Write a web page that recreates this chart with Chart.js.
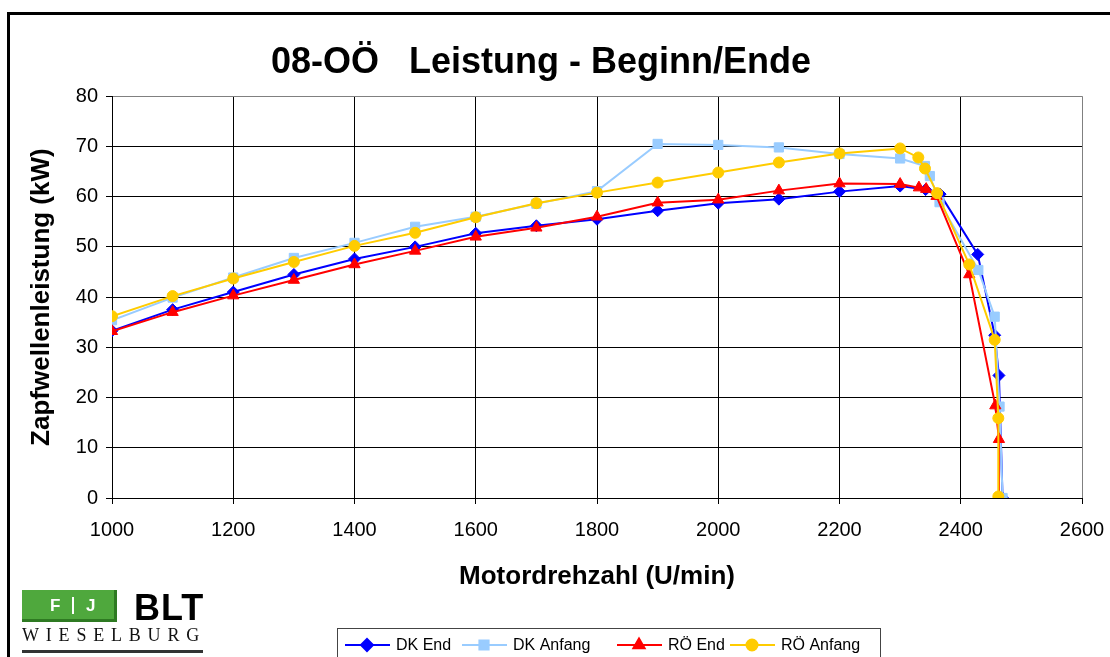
<!DOCTYPE html>
<html lang="de">
<head>
<meta charset="UTF-8">
<title>08-OÖ Leistung - Beginn/Ende</title>
<script src="https://cdn.jsdelivr.net/npm/chart.js"></script>
<style>
  html, body { margin: 0; padding: 0; background: #fff; overflow: hidden; }
  #wrap { position: relative; width: 1110px; height: 657px; }
  #frame { position: absolute; left: 7px; top: 12px; width: 1200px; height: 700px;
           border-left: 3px solid #000; border-top: 3px solid #000; }
  #chart { position: absolute; left: 0; top: 0; }
  .logo { position: absolute; left: 22px; top: 590px; width: 182px; font-family: "Liberation Sans", Arial, sans-serif; }
  .fj { position: absolute; left: 0; top: 0; width: 95px; height: 32px; background: #4fa83d;
        border-right: 3px solid #2e7a22; border-bottom: 3px solid #2e7a22; box-sizing: border-box; }
  .fj span { position: absolute; top: 6px; color: #fff; font-weight: bold; font-size: 17px; }
  .fj .sep { position: absolute; left: 50px; top: 7px; width: 2px; height: 17px; background: #fff; }
  .blt { position: absolute; left: 112px; top: 1px; font-weight: bold; font-size: 36px; line-height: 34px;
         letter-spacing: 1px; color: #000; }
  .wb { position: absolute; left: 0; top: 35px; font-family: "Liberation Serif", "DejaVu Serif", serif; font-size: 18px;
        letter-spacing: 6.8px; color: #111; white-space: nowrap; }
  .ul { position: absolute; left: 0; top: 60px; width: 181px; height: 3px; background: #333; }
</style>
</head>
<body>
<div id="wrap">
  <div id="frame"></div>
  <canvas id="chart" width="1110" height="657"></canvas>
  <div class="logo">
    <div class="fj"><span style="left:28px">F</span><div class="sep"></div><span style="left:64px">J</span></div>
    <div class="blt">BLT</div>
    <div class="wb">WIESELBURG</div>
    <div class="ul"></div>
  </div>
</div>
<script>
// Motordrehzahl (U/min) und Zapfwellenleistung (kW) je Messreihe
const dkEndRpm = [1000, 1100, 1200, 1300, 1400, 1500, 1600, 1700, 1800, 1900, 2000, 2100, 2200, 2300, 2342, 2366, 2428, 2456, 2463, 2469];
const dkEndKw  = [33.3, 37.5, 41.0, 44.5, 47.6, 50.0, 52.7, 54.2, 55.5, 57.2, 58.7, 59.5, 61.0, 62.1, 61.4, 60.5, 48.5, 32.4, 24.4, 0];

const dkAnfRpm = [1000, 1100, 1200, 1300, 1400, 1500, 1600, 1700, 1800, 1900, 2000, 2100, 2200, 2300, 2341, 2349, 2365, 2429, 2456, 2464, 2469];
const dkAnfKw  = [35.4, 39.9, 43.9, 47.8, 50.8, 54.0, 56.0, 58.6, 61.1, 70.5, 70.3, 69.8, 68.5, 67.6, 66.1, 64.1, 58.9, 45.4, 36.1, 18.2, 0];

const roEndRpm = [1000, 1100, 1200, 1300, 1400, 1500, 1600, 1700, 1800, 1900, 2000, 2100, 2200, 2300, 2331, 2343, 2360, 2414, 2457, 2463, 2463];
const roEndKw  = [33.2, 37.0, 40.3, 43.4, 46.5, 49.2, 52.0, 53.8, 56.0, 58.8, 59.4, 61.2, 62.6, 62.5, 61.8, 61.5, 60.1, 44.5, 18.4, 11.7, 0];

const roAnfRpm = [1000, 1100, 1200, 1300, 1400, 1500, 1600, 1700, 1800, 1900, 2000, 2100, 2200, 2300, 2330, 2341, 2361, 2414, 2456, 2462, 2462];
const roAnfKw  = [36.2, 40.2, 43.7, 47.0, 50.2, 52.8, 55.9, 58.7, 60.8, 62.8, 64.8, 66.8, 68.6, 69.6, 67.8, 65.6, 60.7, 46.5, 31.5, 15.9, 0.3];

const seriesNames = ['DK End', 'DK Anfang', 'RÖ End', 'RÖ Anfang'];
const xTicks = [1000, 1200, 1400, 1600, 1800, 2000, 2200, 2400, 2600];
const yTicks = [0, 10, 20, 30, 40, 50, 60, 70, 80];

const FONT = '"Liberation Sans", Arial, sans-serif';

function pts(xs, ys) { return xs.map((x, i) => ({ x: x, y: ys[i] })); }

function makeSet(name, xs, ys, color, style, radius, order) {
  return {
    label: name, data: pts(xs, ys),
    borderColor: color, backgroundColor: color, borderWidth: 2,
    pointStyle: style, pointRadius: radius, pointHoverRadius: radius,
    pointBorderWidth: 1, pointBorderColor: color, pointBackgroundColor: color,
    tension: 0, order: order
  };
}

// legend drawn like the Excel one: line with marker, in a box
const boxLegend = {
  id: 'boxLegend',
  afterDraw(chart) {
    const ctx = chart.ctx;
    ctx.save();
    ctx.strokeStyle = '#444';
    ctx.lineWidth = 1;
    ctx.strokeRect(337.5, 628.5, 543, 40);
    ctx.font = '16px ' + FONT;
    ctx.textBaseline = 'middle';
    const starts = [345, 462, 617, 730];
    chart.data.datasets.forEach((ds, i) => {
      const x0 = starts[i], y = 645;
      ctx.strokeStyle = ds.borderColor;
      ctx.lineWidth = 2;
      ctx.beginPath(); ctx.moveTo(x0, y); ctx.lineTo(x0 + 45, y); ctx.stroke();
      ctx.fillStyle = ds.pointBackgroundColor;
      Chart.helpers.drawPoint(ctx, { pointStyle: ds.pointStyle, radius: ds.pointRadius, borderWidth: 1 }, x0 + 22, y);
      ctx.fillStyle = '#000';
      ctx.fillText(ds.label, x0 + 51, y + 1);
    });
    ctx.restore();
  }
};

const lastGray = (ctx) => (ctx.tick && (ctx.tick.value === 80 || ctx.tick.value === 2600)) ? '#808080' : '#000';

new Chart(document.getElementById('chart'), {
  type: 'line',
  data: {
    datasets: [
      makeSet(seriesNames[0], dkEndRpm, dkEndKw, '#0000ff', 'rectRot', 6, 3),
      makeSet(seriesNames[1], dkAnfRpm, dkAnfKw, '#99ccff', 'rect', 6.5, 2),
      makeSet(seriesNames[2], roEndRpm, roEndKw, '#ff0000', 'triangle', 6.5, 1),
      makeSet(seriesNames[3], roAnfRpm, roAnfKw, '#ffcc00', 'circle', 5.5, 0)
    ]
  },
  options: {
    responsive: false,
    animation: false,
    layout: { padding: { left: 0, right: 28, top: 0, bottom: 63 } },
    plugins: {
      legend: { display: false },
      tooltip: { enabled: false },
      title: {
        display: true,
        text: '08-OÖ   Leistung - Beginn/Ende',
        color: '#000',
        font: { family: FONT, size: 36, weight: 'bold' },
        padding: { top: 41, bottom: 12 }
      }
    },
    scales: {
      x: {
        type: 'linear', min: 1000, max: 2600,
        afterBuildTicks: (s) => { s.ticks = xTicks.map(v => ({ value: v })); },
        afterFit: (s) => { s.height = 96; s.paddingLeft = 0; s.paddingRight = 0; },
        ticks: { color: '#000', font: { family: FONT, size: 20 }, padding: 14, maxRotation: 0,
                 callback: (v) => String(v) },
        grid: { color: lastGray, lineWidth: 1, tickLength: 6, tickColor: '#000' },
        border: { color: '#000', width: 1 },
        title: { display: true, text: 'Motordrehzahl (U/min)', color: '#000',
                 font: { family: FONT, size: 26, weight: 'bold' }, padding: { top: 0, bottom: 2 } }
      },
      y: {
        type: 'linear', min: 0, max: 80,
        afterBuildTicks: (s) => { s.ticks = yTicks.map(v => ({ value: v })); },
        afterFit: (s) => { s.width = 112; s.paddingTop = 0; s.paddingBottom = 0; },
        ticks: { color: '#000', font: { family: FONT, size: 20 }, padding: 8,
                 callback: (v) => String(v) },
        grid: { color: lastGray, lineWidth: 1, tickLength: 6, tickColor: '#000' },
        border: { color: '#000', width: 1 },
        title: { display: true, text: 'Zapfwellenleistung (kW)', color: '#000',
                 font: { family: FONT, size: 26, weight: 'bold' }, padding: { top: 26, bottom: 0 } }
      }
    }
  },
  plugins: [boxLegend]
});
</script>
</body>
</html>
